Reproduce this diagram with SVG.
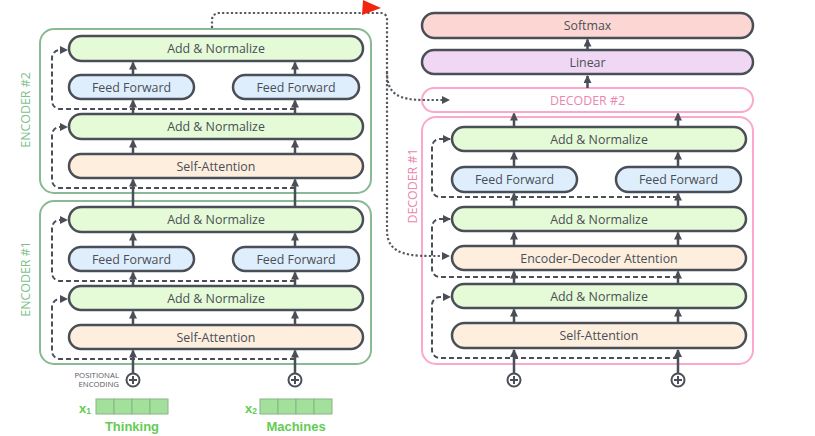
<svg xmlns="http://www.w3.org/2000/svg" width="815" height="436" viewBox="0 0 815 436">
<style>
.box{stroke:#4a4f57;stroke-width:2.5}
.an{fill:#e5fad6}.ff{fill:#dfeefc}.sa{fill:#fdeede}.sm{fill:#fcd6d3}.ln{fill:#f0d8f5}
.t{font-family:"Open Sans",sans-serif;font-size:12.4px;fill:#4a4f57;text-anchor:middle;dominant-baseline:central}
.enc{fill:none;stroke:#88ba93;stroke-width:2}
.dec{fill:none;stroke:#fba8cc;stroke-width:2}
.el{font-family:"Open Sans",sans-serif;font-size:12.4px;fill:#7fbf8c;text-anchor:middle;dominant-baseline:central}
.dl{font-family:"Open Sans",sans-serif;font-size:12.4px;fill:#ea86b0;text-anchor:middle;dominant-baseline:central}
.ar{stroke:#4a4f57;stroke-width:2.5;fill:none;marker-end:url(#ah)}
.res{stroke:#4a4f57;stroke-width:2;fill:none;stroke-dasharray:5 3;marker-end:url(#ah)}
.dot{stroke:#555a60;stroke-width:2.2;fill:none;stroke-dasharray:2.2 2.2}
.pl{fill:#fff;stroke:#4a4f57;stroke-width:2}
.cell{fill:#a3e09c;stroke:#88b585;stroke-width:1}
.w{font-family:"Liberation Sans",Arial,sans-serif;font-weight:bold;fill:#63cc52}
.pe{font-family:"Open Sans",sans-serif;font-size:7.8px;fill:#555a60;text-anchor:end}
</style>
<defs>
<marker id="ah" viewBox="0 0 8 8" refX="7" refY="4" markerWidth="8" markerHeight="8" markerUnits="userSpaceOnUse" orient="auto">
<path d="M0,0 L8,4 L0,8 z" fill="#4a4f57"/>
</marker>
</defs>

<g id="encoder2">
<rect class="enc" x="40" y="29" width="331" height="164" rx="14"/>
<text class="el" transform="translate(25,110) rotate(-90)">ENCODER #2</text>
</g>
<g id="enc2-addnorm2"><rect class="box an" x="69" y="36" width="294" height="25" rx="12.5"/><text class="t" x="216" y="48.5">Add &amp; Normalize</text></g>
<g id="enc2-ff1"><rect class="box ff" x="69" y="75" width="125" height="24" rx="12"/><text class="t" x="131.5" y="87">Feed Forward</text></g>
<g id="enc2-ff2"><rect class="box ff" x="233" y="75" width="126" height="24" rx="12"/><text class="t" x="296" y="87">Feed Forward</text></g>
<g id="enc2-addnorm1"><rect class="box an" x="69" y="114" width="294" height="25" rx="12.5"/><text class="t" x="216" y="126.5">Add &amp; Normalize</text></g>
<g id="enc2-selfattn"><rect class="box sa" x="69" y="154" width="294" height="24" rx="12"/><text class="t" x="216" y="166">Self-Attention</text></g>

<g id="encoder1">
<rect class="enc" x="40" y="201" width="331" height="163" rx="14"/>
<text class="el" transform="translate(25,279) rotate(-90)">ENCODER #1</text>
</g>
<g id="enc1-addnorm2"><rect class="box an" x="69" y="207" width="294" height="25" rx="12.5"/><text class="t" x="216" y="219.5">Add &amp; Normalize</text></g>
<g id="enc1-ff1"><rect class="box ff" x="69" y="247" width="125" height="24" rx="12"/><text class="t" x="131.5" y="259">Feed Forward</text></g>
<g id="enc1-ff2"><rect class="box ff" x="233" y="247" width="126" height="24" rx="12"/><text class="t" x="296" y="259">Feed Forward</text></g>
<g id="enc1-addnorm1"><rect class="box an" x="69" y="286" width="294" height="24" rx="12"/><text class="t" x="216" y="298">Add &amp; Normalize</text></g>
<g id="enc1-selfattn"><rect class="box sa" x="69" y="325" width="294" height="24" rx="12"/><text class="t" x="216" y="337">Self-Attention</text></g>

<g id="softmax"><rect class="box sm" x="422" y="13" width="331" height="25" rx="12.5"/><text class="t" x="587.5" y="25.5">Softmax</text></g>
<g id="linear"><rect class="box ln" x="422" y="50" width="331" height="24" rx="12"/><text class="t" x="587.5" y="62">Linear</text></g>
<g id="decoder2"><rect x="422" y="88" width="331" height="24" rx="12" fill="#fff" stroke="#fba8cc" stroke-width="2"/><text class="dl" x="587.5" y="100">DECODER #2</text></g>

<g id="decoder1">
<rect class="dec" x="422" y="117" width="331" height="247" rx="14"/>
<text class="dl" transform="translate(412,186) rotate(-90)">DECODER #1</text>
</g>
<g id="dec-addnorm3"><rect class="box an" x="452" y="127" width="294" height="24" rx="12"/><text class="t" x="599" y="139">Add &amp; Normalize</text></g>
<g id="dec-ff1"><rect class="box ff" x="452" y="167" width="125" height="25" rx="12.5"/><text class="t" x="514.5" y="179.5">Feed Forward</text></g>
<g id="dec-ff2"><rect class="box ff" x="616" y="167" width="125" height="25" rx="12.5"/><text class="t" x="678.5" y="179.5">Feed Forward</text></g>
<g id="dec-addnorm2"><rect class="box an" x="452" y="207" width="294" height="24" rx="12"/><text class="t" x="599" y="219">Add &amp; Normalize</text></g>
<g id="dec-encdec"><rect class="box sa" x="452" y="246" width="294" height="24" rx="12"/><text class="t" x="599" y="258">Encoder-Decoder Attention</text></g>
<g id="dec-addnorm1"><rect class="box an" x="452" y="284" width="294" height="24" rx="12"/><text class="t" x="599" y="296">Add &amp; Normalize</text></g>
<g id="dec-selfattn"><rect class="box sa" x="452" y="323" width="294" height="25" rx="12.5"/><text class="t" x="599" y="335.5">Self-Attention</text></g>

<g id="inputs">
<text class="pe" x="119" y="377.8">POSITIONAL</text>
<text class="pe" x="119" y="386.6">ENCODING</text>
<g id="pe1"><circle class="pl" cx="133" cy="380" r="6.5"/><path d="M129,380 H137 M133,376 V384" stroke="#4a4f57" stroke-width="2"/></g>
<g id="pe2"><circle class="pl" cx="295" cy="380" r="6.5"/><path d="M291,380 H299 M295,376 V384" stroke="#4a4f57" stroke-width="2"/></g>
<g id="pe3"><circle class="pl" cx="514" cy="380" r="6.5"/><path d="M510,380 H518 M514,376 V384" stroke="#4a4f57" stroke-width="2"/></g>
<g id="pe4"><circle class="pl" cx="678" cy="380" r="6.5"/><path d="M674,380 H682 M678,376 V384" stroke="#4a4f57" stroke-width="2"/></g>
<g id="x1">
<rect class="cell" x="96" y="399" width="18" height="15"/><rect class="cell" x="114" y="399" width="18" height="15"/><rect class="cell" x="132" y="399" width="18" height="15"/><rect class="cell" x="150" y="399" width="18" height="15"/>
<text class="w" x="79" y="413" font-size="13">x<tspan font-size="8.5" dy="1">1</tspan></text>
<text class="w" x="132" y="431" font-size="13" text-anchor="middle">Thinking</text>
</g>
<g id="x2">
<rect class="cell" x="260" y="399" width="18" height="15"/><rect class="cell" x="278" y="399" width="18" height="15"/><rect class="cell" x="296" y="399" width="18" height="15"/><rect class="cell" x="314" y="399" width="18" height="15"/>
<text class="w" x="245" y="413" font-size="13">x<tspan font-size="8.5" dy="1">2</tspan></text>
<text class="w" x="296" y="431" font-size="13" text-anchor="middle">Machines</text>
</g>
</g>

<g id="connectors">
<path class="ar" d="M133,373.5 V350.5"/><path class="ar" d="M133,325 V311.5"/><path class="ar" d="M133,286 V272.5"/><path class="ar" d="M133,247 V233.5"/>
<path class="ar" d="M133,207 V179.5"/><path class="ar" d="M133,154 V140.5"/><path class="ar" d="M133,114 V100.5"/><path class="ar" d="M133,75 V62.5"/>
<path class="ar" d="M295,373.5 V350.5"/><path class="ar" d="M295,325 V311.5"/><path class="ar" d="M295,286 V272.5"/><path class="ar" d="M295,247 V233.5"/>
<path class="ar" d="M295,207 V179.5"/><path class="ar" d="M295,154 V140.5"/><path class="ar" d="M295,114 V100.5"/><path class="ar" d="M295,75 V62.5"/>
<path class="ar" d="M514,373.5 V350"/><path class="ar" d="M514,323 V309.5"/><path class="ar" d="M514,284 V271.5"/><path class="ar" d="M514,246 V232.5"/>
<path class="ar" d="M514,207 V193.5"/><path class="ar" d="M514,167 V152.5"/><path class="ar" d="M514,127 V113.5"/>
<path class="ar" d="M678,373.5 V350"/><path class="ar" d="M678,323 V309.5"/><path class="ar" d="M678,284 V271.5"/><path class="ar" d="M678,246 V232.5"/>
<path class="ar" d="M678,207 V193.5"/><path class="ar" d="M678,167 V152.5"/><path class="ar" d="M678,127 V113.5"/>
<path class="ar" d="M587.5,88 V76"/><path class="ar" d="M587.5,50 V39.5"/>
<path class="res" d="M295,109 H60 A8,8 0 0 1 52,101 V58 A8,8 0 0 1 60,50 H67"/>
<path class="res" d="M295,188 H60 A8,8 0 0 1 52,180 V135 A8,8 0 0 1 60,127 H67"/>
<path class="res" d="M295,281 H60 A8,8 0 0 1 52,273 V228 A8,8 0 0 1 60,220 H67"/>
<path class="res" d="M295,359 H60 A8,8 0 0 1 52,351 V307 A8,8 0 0 1 60,299 H67"/>
<path class="res" d="M678,197 H440 A8,8 0 0 1 432,189 V147 A8,8 0 0 1 440,139 H450"/>
<path class="res" d="M678,277 H440 A8,8 0 0 1 432,269 V227 A8,8 0 0 1 440,219 H450"/>
<path class="res" d="M678,358 H440 A8,8 0 0 1 432,350 V305 A8,8 0 0 1 440,297 H450"/>
<path class="dot" d="M212,28 V20 A7,7 0 0 1 219,13 H381 A6,6 0 0 1 387,19 V230 C387,250 400,256 430,256 H444"/>
<path class="dot" d="M387,72 C387,94 398,100 425,100 H444"/>
<path d="M442,96 L450,100 L442,104 z" fill="#4a4f57"/>
<path d="M442,252 L450,256 L442,260 z" fill="#4a4f57"/>
<polygon points="363,0 381,8 362,15" fill="#f2230f"/>
</g>
</svg>
